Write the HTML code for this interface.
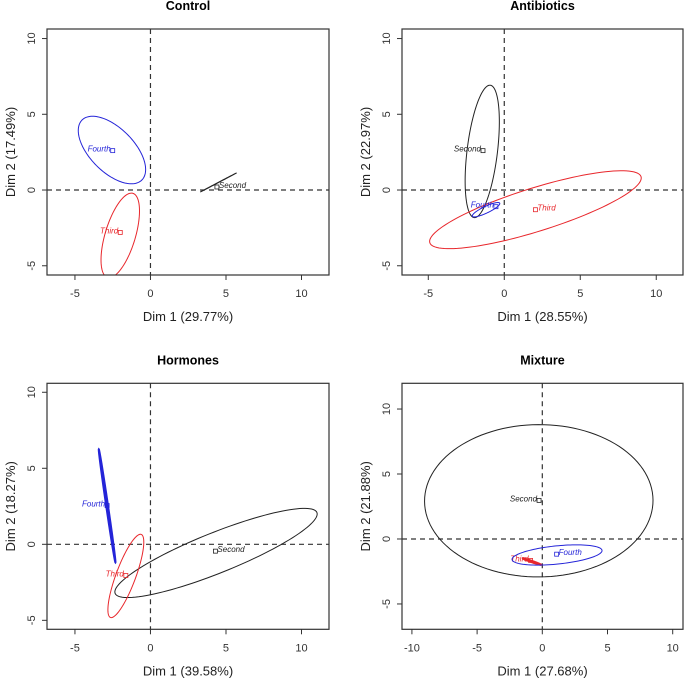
<!DOCTYPE html>
<html><head><meta charset="utf-8"><style>
body{margin:0;background:#fff;}
svg{display:block;font-family:"Liberation Sans",sans-serif;}
</style></head><body>
<svg id="chart" width="685" height="678" viewBox="0 0 685 678"></svg>
<script>
// group order: Second, Third, Fourth
const groupNames = ["Second", "Third", "Fourth"];
const panelTitles = ["Control", "Antibiotics", "Hormones", "Mixture"];
const xAxisTitles = ["Dim 1 (29.77%)", "Dim 1 (28.55%)", "Dim 1 (39.58%)", "Dim 1 (27.68%)"];
const yAxisTitles = ["Dim 2 (17.49%)", "Dim 2 (22.97%)", "Dim 2 (18.27%)", "Dim 2 (21.88%)"];
const xTicksStd = [-5, 0, 5, 10];
const xTicksMix = [-10, -5, 0, 5, 10];
const yTicks = [-5, 0, 5, 10];

// Control
const controlPointX = [4.4, -2.0, -2.5];
const controlPointY = [0.2, -2.8, 2.6];
const controlCenterX = [4.5, -2.0, -2.55];
const controlCenterY = [0.5, -3.0, 2.64];
const controlMajorX = [1.2, 0.84, 1.98];
const controlMajorY = [0.63, 2.78, -1.98];
const controlMinor = [0.01, 1.0, 1.45];
// Antibiotics
const antiPointX = [-1.4, 2.05, -0.55];
const antiPointY = [2.6, -1.3, -1.1];
const antiCenterX = [-1.45, 2.05, -1.2];
const antiCenterY = [2.55, -1.3, -1.3];
const antiMajorX = [0.53, 6.95, 0.9];
const antiMajorY = [4.37, 2.18, 0.43];
const antiMinor = [1.0, 1.43, 0.22];
// Hormones
const hormPointX = [4.3, -1.63, -2.87];
const hormPointY = [-0.45, -2.05, 2.55];
const hormCenterX = [4.34, -1.63, -2.87];
const hormCenterY = [-0.57, -2.08, 2.53];
const hormMajorX = [6.68, 1.02, -0.55];
const hormMajorY = [2.66, 2.73, 3.72];
const hormMinor = [1.33, 0.65, 0.06];
// Mixture
const mixPointX = [-0.25, -0.9, 1.1];
const mixPointY = [2.97, -1.65, -1.17];
const mixCenterX = [-0.27, -0.79, 1.13];
const mixCenterY = [2.94, -1.74, -1.23];
const mixMajorX = [8.76, 0.71, 3.45];
const mixMajorY = [0.05, -0.25, 0.35];
const mixMinor = [5.86, 0.05, 0.7];

const colors = ["#222", "#e8262b", "#2424d8"];
const NS = "http://www.w3.org/2000/svg";
const svg = document.getElementById("chart");
function mk(tag, attrs, parent){const e=document.createElementNS(NS,tag);for(const k in attrs)e.setAttribute(k,attrs[k]);(parent||svg).appendChild(e);return e;}

const panels = [
 {box:[47,29,329,275], xd:[-6.85,11.82], yd:[-5.61,10.63], xt:xTicksStd,
  px:controlPointX, py:controlPointY, cx:controlCenterX, cy:controlCenterY, mx:controlMajorX, my:controlMajorY, mn:controlMinor,
  side:["right","left","left"], lw:[1,1,1]},
 {box:[402,29,683,275], xd:[-6.73,11.76], yd:[-5.61,10.63], xt:xTicksStd,
  px:antiPointX, py:antiPointY, cx:antiCenterX, cy:antiCenterY, mx:antiMajorX, my:antiMajorY, mn:antiMinor,
  side:["left","right","left"], lw:[1,1,1]},
 {box:[47,383.3,329,629.3], xd:[-6.85,11.82], yd:[-5.59,10.59], xt:xTicksStd,
  px:hormPointX, py:hormPointY, cx:hormCenterX, cy:hormCenterY, mx:hormMajorX, my:hormMajorY, mn:hormMinor,
  side:["right","left","left"], lw:[1,1,2]},
 {box:[402,383.3,683,629.3], xd:[-10.76,10.79], yd:[-6.95,11.98], xt:xTicksMix,
  px:mixPointX, py:mixPointY, cx:mixCenterX, cy:mixCenterY, mx:mixMajorX, my:mixMajorY, mn:mixMinor,
  side:["left","left","right"], lw:[1,2,1]}
];

panels.forEach((p,i)=>{
  const [L,T,R,B]=p.box;
  const sx=v=>L+(v-p.xd[0])/(p.xd[1]-p.xd[0])*(R-L);
  const sy=v=>B-(v-p.yd[0])/(p.yd[1]-p.yd[0])*(B-T);
  const g=mk("g",{});
  
  
  const cx=(L+R)/2;
  const t=mk("text",{x:cx,y:T-19,"text-anchor":"middle","font-size":"12.5","font-weight":"bold",fill:"#000"},g);
  t.textContent=panelTitles[i];
  
  
  const xl=mk("text",{x:cx,y:B+46,"text-anchor":"middle","font-size":"13",fill:"#222"},g);
  xl.textContent=xAxisTitles[i];
  
  
  const ym=(T+B)/2;
  const yl=mk("text",{x:L-32,y:ym,"text-anchor":"middle","font-size":"13",fill:"#222",transform:`rotate(-90 ${L-32} ${ym})`},g);
  yl.textContent=yAxisTitles[i];
  
  
  p.xt.forEach(v=>{
    const x=sx(v);
    mk("line",{x1:x,y1:B,x2:x,y2:B+5,stroke:"#333","stroke-width":1},g);
    const tl=mk("text",{x:x,y:B+22,"text-anchor":"middle","font-size":"11",fill:"#333"},g);
    tl.textContent=String(v);
    
    
  });
  yTicks.forEach(v=>{
    const y=sy(v);
    mk("line",{x1:L,y1:y,x2:L-5,y2:y,stroke:"#333","stroke-width":1},g);
    const tl=mk("text",{x:L-12,y:y,"text-anchor":"middle","font-size":"11",fill:"#333",transform:`rotate(-90 ${L-12} ${y})`},g);
    tl.textContent=String(v);
    
    
  });
  const cid="clip"+i;
  const cp=mk("clipPath",{id:cid},g);
  mk("rect",{x:L,y:T,width:R-L,height:B-T},cp);
  const inner=mk("g",{"clip-path":`url(#${cid})`},g);
  mk("line",{x1:L,y1:sy(0),x2:R,y2:sy(0),stroke:"#333","stroke-dasharray":"5,4","stroke-width":1.2},inner);
  mk("line",{x1:sx(0),y1:T,x2:sx(0),y2:B,stroke:"#333","stroke-dasharray":"5,4","stroke-width":1.2},inner);
  groupNames.forEach((name,k)=>{
    const ux=p.mx[k], uy=p.my[k];
    const len=Math.hypot(ux,uy);
    const vx=-uy/len*p.mn[k], vy=ux/len*p.mn[k];
    let d="";
    for(let s=0;s<=120;s++){
      const a=s/120*2*Math.PI;
      const X=p.cx[k]+Math.cos(a)*ux+Math.sin(a)*vx;
      const Y=p.cy[k]+Math.cos(a)*uy+Math.sin(a)*vy;
      d+=(s?"L":"M")+sx(X).toFixed(2)+","+sy(Y).toFixed(2);
    }
    const e=mk("path",{d:d+"Z",fill:"none",stroke:colors[k],"stroke-width":p.lw[k]},inner);
    
    
    const X=sx(p.px[k]), Y=sy(p.py[k]);
    const m=mk("rect",{x:X-2,y:Y-2,width:4,height:4,fill:"none",stroke:colors[k],"stroke-width":0.8},inner);
    
    
    const right=p.side[k]==="right";
    const lb=mk("text",{x:right?X+2:X-2,y:Y+1,"text-anchor":right?"start":"end","font-size":"8","font-style":"italic",fill:colors[k]},inner);
    lb.textContent=name;
    
    
  });
  const box=mk("rect",{x:L,y:T,width:R-L,height:B-T,fill:"none",stroke:"#333","stroke-width":1.2},g);
  
  
});
</script>
</body></html>
